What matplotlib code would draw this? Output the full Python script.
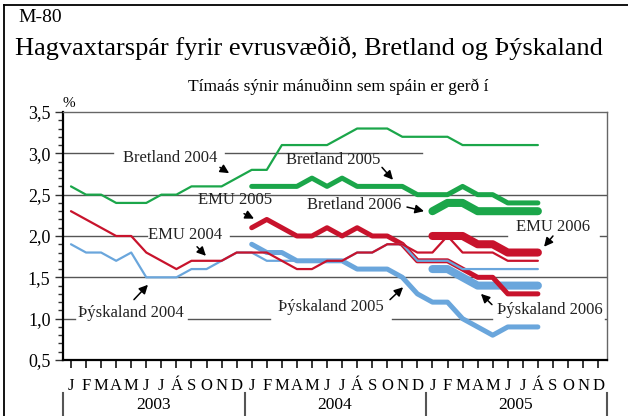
import matplotlib
matplotlib.use("Agg")
import matplotlib.pyplot as plt
import matplotlib.transforms as transforms
from matplotlib.lines import Line2D

plt.rcParams['font.family'] = ['Liberation Serif', 'DejaVu Serif']

# months are counted from January 2003 (index 0)
month_letters = ["J", "F", "M", "A", "M", "J", "J", "Á", "S", "O", "N", "D"]
years = ["2003", "2004", "2005"]

# growth forecasts (%), one value per month in which the forecast was made
bretland_2004 = [2.6, 2.5, 2.5, 2.4, 2.4, 2.4, 2.5, 2.5, 2.6, 2.6, 2.6, 2.7,
                 2.8, 2.8, 3.1, 3.1, 3.1, 3.1, 3.2, 3.3, 3.3, 3.3, 3.2, 3.2,
                 3.2, 3.2, 3.1, 3.1, 3.1, 3.1, 3.1, 3.1]
bretland_2005 = [2.6, 2.6, 2.6, 2.6, 2.7, 2.6, 2.7, 2.6, 2.6, 2.6, 2.6, 2.5,
                 2.5, 2.5, 2.6, 2.5, 2.5, 2.4, 2.4, 2.4]
bretland_2006 = [2.3, 2.4, 2.4, 2.3, 2.3, 2.3, 2.3, 2.3]

emu_2004 = [2.3, 2.2, 2.1, 2.0, 2.0, 1.8, 1.7, 1.6, 1.7, 1.7, 1.7, 1.8,
            1.8, 1.8, 1.7, 1.6, 1.6, 1.7, 1.7, 1.8, 1.8, 1.9, 1.9, 1.8,
            1.8, 2.0, 1.8, 1.8, 1.8, 1.7, 1.7, 1.7]
emu_2005 = [2.1, 2.2, 2.1, 2.0, 2.0, 2.1, 2.0, 2.1, 2.0, 2.0, 1.9, 1.7,
            1.7, 1.7, 1.6, 1.5, 1.5, 1.3, 1.3, 1.3]
emu_2006 = [2.0, 2.0, 2.0, 1.9, 1.9, 1.8, 1.8, 1.8]

thyskaland_2004 = [1.9, 1.8, 1.8, 1.7, 1.8, 1.5, 1.5, 1.5, 1.6, 1.6, 1.7, 1.8,
                   1.8, 1.7, 1.7, 1.7, 1.7, 1.7, 1.7, 1.8, 1.8, 1.9, 1.9, 1.7,
                   1.7, 1.7, 1.6, 1.6, 1.6, 1.6, 1.6, 1.6]
thyskaland_2005 = [1.9, 1.8, 1.8, 1.7, 1.7, 1.7, 1.7, 1.6, 1.6, 1.6, 1.5, 1.3,
                   1.2, 1.2, 1.0, 0.9, 0.8, 0.9, 0.9, 0.9]
thyskaland_2006 = [1.6, 1.6, 1.5, 1.4, 1.4, 1.4, 1.4, 1.4]

GREEN = "#1ba64a"
RED = "#c8132c"
BLUE = "#6aa6dc"

fig = plt.figure(figsize=(6.28, 4.16), dpi=100)
ax = fig.add_axes([0.1003, 0.1346, 0.8663, 0.5962])
ax.set_xlim(-0.53, 35.59)
ax.set_ylim(0.5, 3.5)

# horizontal grid, broken where the series labels sit
grid_segments = {
    3.0: [(-0.53, 2.79), (10.22, 23.3)],
    2.5: [(-0.53, 35.59)],
    2.0: [(-0.53, 5.04), (10.56, 28.95), (35.1, 35.59)],
    1.5: [(-0.53, 35.59)],
    1.0: [(-0.53, 0.27), (7.77, 13.21), (21.31, 27.95), (35.45, 35.59)],
}
for yv, segs in grid_segments.items():
    for x0, x1 in segs:
        ax.plot([x0, x1], [yv, yv], color="#555555", lw=1.0, zorder=1)


def draw(values, start, color, width, z):
    months = list(range(start, start + len(values)))
    ax.plot(months, values, color=color, lw=width, zorder=z,
            solid_capstyle="round", solid_joinstyle="round")


THIN, MID, THICK = 1.6, 3.6, 5.8
draw(bretland_2004, 0, GREEN, THIN, 3)
draw(bretland_2005, 12, GREEN, MID, 4)
draw(bretland_2006, 24, GREEN, THICK, 5)
draw(thyskaland_2006, 24, BLUE, THICK, 2)
draw(thyskaland_2005, 12, BLUE, MID, 3)
draw(emu_2005, 12, RED, MID, 4)
draw(thyskaland_2004, 0, BLUE, THIN, 5)
draw(emu_2004, 0, RED, THIN, 6)
draw(emu_2006, 24, RED, THICK, 7)

# series labels with arrows: (text, text pos, arrow tail, arrow head)
labels = [
    ("Bretland 2004", (3.45, 2.94), (9.89, 2.83), (10.5, 2.76)),
    ("Bretland 2005", (14.28, 2.92), (20.65, 2.83), (21.38, 2.68)),
    ("Bretland 2006", (15.67, 2.38), (22.31, 2.35), (23.44, 2.30)),
    ("EMU 2005", (8.43, 2.44), (11.49, 2.27), (12.15, 2.21)),
    ("EMU 2004", (5.11, 2.01), (8.37, 1.87), (8.96, 1.76)),
    ("EMU 2006", (29.55, 2.11), (32.0, 2.0), (31.41, 1.87)),
    ("Þýskaland 2004", (0.46, 1.07), (4.18, 1.23), (5.11, 1.41)),
    ("Þýskaland 2005", (13.75, 1.14), (21.18, 1.23), (22.05, 1.38)),
    ("Þýskaland 2006", (28.29, 1.11), (27.95, 1.17), (27.22, 1.30)),
]
for text, pos, tail, head in labels:
    ax.text(pos[0], pos[1], text, fontsize=12, ha="left", va="center",
            color="#222222", zorder=8)
    ax.annotate("", xy=head, xytext=tail,
                arrowprops=dict(arrowstyle="-|>", color="black", lw=1.1,
                                mutation_scale=13, shrinkA=0, shrinkB=0),
                zorder=8)

# axes styling
for side in ["top", "right"]:
    ax.spines[side].set_color("#666666")
    ax.spines[side].set_linewidth(1.0)
for side in ["left", "bottom"]:
    ax.spines[side].set_color("black")
    ax.spines[side].set_linewidth(1.6)

ax.set_yticks([0.5, 1.0, 1.5, 2.0, 2.5, 3.0, 3.5])
ax.set_yticklabels(["0,5", "1,0", "1,5", "2,0", "2,5", "3,0", "3,5"])
ax.set_yticks([v / 10 for v in range(5, 36)], minor=True)
ax.tick_params(axis="y", which="major", length=6, width=1.0, color="#333333",
               labelsize=13, pad=3)
ax.tick_params(axis="y", which="minor", length=3.5, width=1.0, color="#333333")

ax.set_xticks(range(36))
ax.set_xticklabels(month_letters * 3)
ax.tick_params(axis="x", length=6, width=1.1, color="black", labelsize=12,
               pad=7)

# year labels and separators under the month letters
trans = transforms.blended_transform_factory(ax.transData, ax.transAxes)
for i, yr in enumerate(years):
    ax.text(12 * i + 5.5, -0.18, yr, transform=trans, ha="center",
            va="center", fontsize=12.5)
for xs in [-0.53, 11.55, 23.57, 35.59]:
    ax.add_line(Line2D([xs, xs], [-0.133, -0.3], transform=trans,
                       color="#555555", lw=1.5, clip_on=False))

ax.text(0.0, 1.035, "%", transform=ax.transAxes, fontsize=11, ha="left",
        va="center")

fig.text(0.0287, 0.959, "M-80", fontsize=14, ha="left", va="center")
fig.text(0.0239, 0.885, "Hagvaxtarspár fyrir evrusvæðið, Bretland og Þýskaland",
         fontsize=19, ha="left", va="center")
fig.text(0.538, 0.791, "Tímaás sýnir mánuðinn sem spáin er gerð í",
         fontsize=12.5, ha="center", va="center")

# frame around the figure (left and top edges)
fig.add_artist(Line2D([0.0064, 0.0064], [0.0, 0.987], transform=fig.transFigure,
                      color="black", lw=1.3))
fig.add_artist(Line2D([0.0064, 1.0], [0.987, 0.987], transform=fig.transFigure,
                      color="black", lw=1.3))

fig.savefig("out.png", dpi=100)
